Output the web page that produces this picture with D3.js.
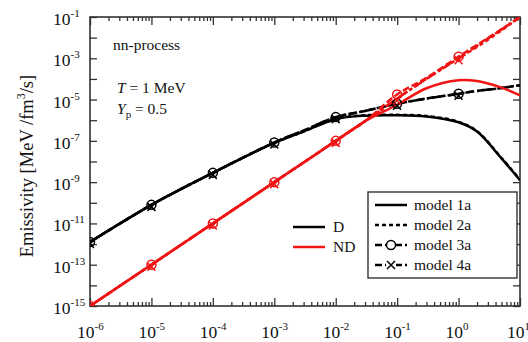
<!DOCTYPE html>
<html>
<head>
<meta charset="utf-8">
<script src="https://cdn.jsdelivr.net/npm/d3@7"></script>
<style>
  body { margin: 0; background: #fff; }
  text { font-family: "Liberation Serif", "Times New Roman", serif; fill: #111; }
</style>
</head>
<body>
<div id="chart"></div>
<script>
var rho = [1e-6, 1e-5, 1e-4, 1e-3, 3e-3, 1e-2, 3e-2, 1e-1, 3e-1, 1, 2, 5, 10];

// log10 of emissivity, D = degenerate (black), ND = non-degenerate (red)
var d1a = [-11.9, -10.1, -8.55, -7.1, -6.55, -5.95, -5.78, -5.76, -5.82, -6.1, -6.55, -7.85, -8.9];
var d2a = [-11.9, -10.1, -8.55, -7.1, -6.55, -5.93, -5.76, -5.74, -5.8, -6.08, -6.53, -7.83, -8.88];
var d3a = [-11.9, -10.1, -8.55, -7.08, -6.5, -5.85, -5.55, -5.2, -4.95, -4.72, -4.58, -4.44, -4.3];
var d4a = [-11.9, -10.1, -8.55, -7.08, -6.5, -5.85, -5.55, -5.2, -4.95, -4.72, -4.58, -4.44, -4.3];

var nd1a = [-15, -13, -11, -9, -8.05, -7.0, -6.05, -5.25, -4.45, -4.06, -4.1, -4.42, -4.8];
var nd2a = [-15, -13, -11, -9, -8.05, -7.0, -6.05, -4.95, -4.0, -3.0, -2.45, -1.65, -1.0];
var nd3a = [-15, -13, -11, -9, -8.05, -7.0, -6.05, -4.75, -3.95, -2.92, -2.35, -1.6, -1.0];
var nd4a = [-15, -13, -11, -9, -8.05, -7.0, -6.05, -4.95, -4.0, -3.0, -2.4, -1.6, -1.0];

var xTicks = [-6, -5, -4, -3, -2, -1, 0, 1];
var yTicks = [-15, -13, -11, -9, -7, -5, -3, -1];

var width = 528, height = 342;
var pLeft = 90, pRight = 520, pTop = 17, pBottom = 306;

var svg = d3.select('#chart').append('svg')
  .attr('width', width)
  .attr('height', height);

var x = d3.scaleLog().domain([1e-6, 10]).range([pLeft, pRight]);
var y = d3.scaleLog().domain([1e-15, 1e-1]).range([pBottom, pTop]);

svg.append('clipPath').attr('id', 'clip')
  .append('rect')
  .attr('x', pLeft).attr('y', pTop)
  .attr('width', pRight - pLeft).attr('height', pBottom - pTop);

// ticks: every decade on y, 1..9 on x, all pointing inward
var yDec = d3.range(-15, 0).map(function(e) { return Math.pow(10, e); });
var xMinor = [];
for (var e = -6; e < 1; e++) {
  for (var k = 1; k < 10; k++) xMinor.push(k * Math.pow(10, e));
}
xMinor.push(10);

svg.append('g')
  .attr('transform', 'translate(' + pLeft + ',0)')
  .call(d3.axisLeft(y).tickValues(yDec).tickSizeInner(-7).tickSizeOuter(0).tickFormat(''));
svg.append('g')
  .attr('transform', 'translate(' + pRight + ',0)')
  .call(d3.axisRight(y).tickValues(yDec).tickSizeInner(-7).tickSizeOuter(0).tickFormat(''));

function isDecade(v) { return Math.abs(Math.log10(v) - Math.round(Math.log10(v))) < 1e-9; }

[pBottom, pTop].forEach(function(yy) {
  var ax = yy === pBottom ? d3.axisBottom(x) : d3.axisTop(x);
  var g = svg.append('g')
    .attr('transform', 'translate(0,' + yy + ')')
    .call(ax.tickValues(xMinor).tickSizeInner(-4).tickSizeOuter(0).tickFormat(''));
  g.selectAll('.tick line')
    .attr('y2', function(d) { return (isDecade(d) ? 8 : 4) * (yy === pBottom ? -1 : 1); });
});

svg.selectAll('.domain').remove();
svg.selectAll('.tick line').attr('stroke', '#333').attr('stroke-width', 1.3);

svg.append('rect')
  .attr('x', pLeft).attr('y', pTop)
  .attr('width', pRight - pLeft).attr('height', pBottom - pTop)
  .attr('fill', 'none').attr('stroke', '#333').attr('stroke-width', 1.6);

// tick labels with superscript exponents
function pow10Label(sel, e) {
  sel.append('tspan').text('10');
  sel.append('tspan').attr('dy', -8).attr('font-size', 11).text(e);
}

yTicks.forEach(function(e) {
  var t = svg.append('text')
    .attr('x', 53).attr('y', y(Math.pow(10, e)) + 8)
    .attr('font-size', 17.5);
  pow10Label(t, e);
});

xTicks.forEach(function(e) {
  var t = svg.append('text')
    .attr('x', x(Math.pow(10, e)) - 13).attr('y', 338)
    .attr('font-size', 17.5);
  pow10Label(t, e);
});

svg.append('text')
  .attr('transform', 'translate(33,166) rotate(-90)')
  .attr('text-anchor', 'middle')
  .attr('font-size', 18.5)
  .call(function(t) {
    t.append('tspan').text('Emissivity [MeV /fm');
    t.append('tspan').attr('dy', -8).attr('font-size', 12).text('3');
    t.append('tspan').attr('dy', 8).text('/s]');
  });

// annotations
svg.append('text').attr('x', 113).attr('y', 50).attr('font-size', 15.5).text('nn-process');
svg.append('text').attr('x', 117).attr('y', 93).attr('font-size', 15.5)
  .call(function(t) {
    t.append('tspan').attr('font-style', 'italic').text('T');
    t.append('tspan').text(' = 1 MeV');
  });
svg.append('text').attr('x', 117).attr('y', 114).attr('font-size', 15.5)
  .call(function(t) {
    t.append('tspan').attr('font-style', 'italic').text('Y');
    t.append('tspan').attr('dy', 4).attr('font-size', 11).text('p');
    t.append('tspan').attr('dy', -4).text(' = 0.5');
  });

// curves
var line = d3.line()
  .x(function(d) { return x(d[0]); })
  .y(function(d) { return y(Math.pow(10, d[1])); })
  .curve(d3.curveCatmullRom.alpha(0.5));

var plot = svg.append('g').attr('clip-path', 'url(#clip)');

var series = [
  { v: d1a, color: '#000', dash: null },
  { v: d2a, color: '#000', dash: '4,3' },
  { v: d3a, color: '#000', dash: '7,3', marker: 'circle' },
  { v: d4a, color: '#000', dash: '9,3,2,3', marker: 'cross' },
  { v: nd1a, color: '#f01414', dash: null },
  { v: nd2a, color: '#f01414', dash: '4,3' },
  { v: nd3a, color: '#f01414', dash: '7,3', marker: 'circle' },
  { v: nd4a, color: '#f01414', dash: '9,3,2,3', marker: 'cross' }
];

series.forEach(function(s) {
  plot.append('path')
    .datum(rho.map(function(r, i) { return [r, s.v[i]]; }))
    .attr('d', line)
    .attr('fill', 'none')
    .attr('stroke', s.color)
    .attr('stroke-width', 2.5)
    .attr('stroke-dasharray', s.dash);
});

function drawMarker(g, type, cx, cy, color) {
  if (type === 'circle') {
    g.append('circle').attr('cx', cx).attr('cy', cy).attr('r', 4.5)
      .attr('fill', 'none').attr('stroke', color).attr('stroke-width', 1.5);
  } else {
    var s = 4;
    g.append('path')
      .attr('d', 'M' + (cx - s) + ',' + (cy - s) + 'L' + (cx + s) + ',' + (cy + s) +
                 'M' + (cx - s) + ',' + (cy + s) + 'L' + (cx + s) + ',' + (cy - s))
      .attr('stroke', color).attr('stroke-width', 1.5);
  }
}

series.filter(function(s) { return s.marker; }).forEach(function(s) {
  rho.forEach(function(r, i) {
    if (isDecade(r) && r <= 1) {
      drawMarker(plot, s.marker, x(r), y(Math.pow(10, s.v[i])) + (s.marker === 'cross' ? 2 : 0), s.color);
    }
  });
});

// model legend
var lg = svg.append('g');
lg.append('rect').attr('x', 368).attr('y', 192).attr('width', 149).attr('height', 86)
  .attr('fill', '#fff').attr('stroke', '#333').attr('stroke-width', 1.4);
var models = ['model 1a', 'model 2a', 'model 3a', 'model 4a'];
var legDash = [null, '4,3', '7,3', '7,3'];
var legMark = [null, null, 'circle', 'cross'];
models.forEach(function(m, i) {
  var yy = 205 + i * 20;
  lg.append('line').attr('x1', 375).attr('x2', 407).attr('y1', yy).attr('y2', yy)
    .attr('stroke', '#000').attr('stroke-width', 2.5).attr('stroke-dasharray', legDash[i]);
  if (legMark[i]) {
    lg.append('rect').attr('x', 386).attr('y', yy - 5).attr('width', 10).attr('height', 10).attr('fill', '#fff');
    drawMarker(lg, legMark[i], 391, yy, '#000');
  }
  lg.append('text').attr('x', 414).attr('y', yy + 5).attr('font-size', 15.5).text(m);
});

// D / ND legend
[['D', '#000'], ['ND', '#f01414']].forEach(function(d, i) {
  var yy = 227 + i * 20;
  svg.append('line').attr('x1', 293).attr('x2', 325).attr('y1', yy).attr('y2', yy)
    .attr('stroke', d[1]).attr('stroke-width', 2.5);
  svg.append('text').attr('x', 333).attr('y', yy + 5).attr('font-size', 15.5).text(d[0]);
});
</script>
</body>
</html>
